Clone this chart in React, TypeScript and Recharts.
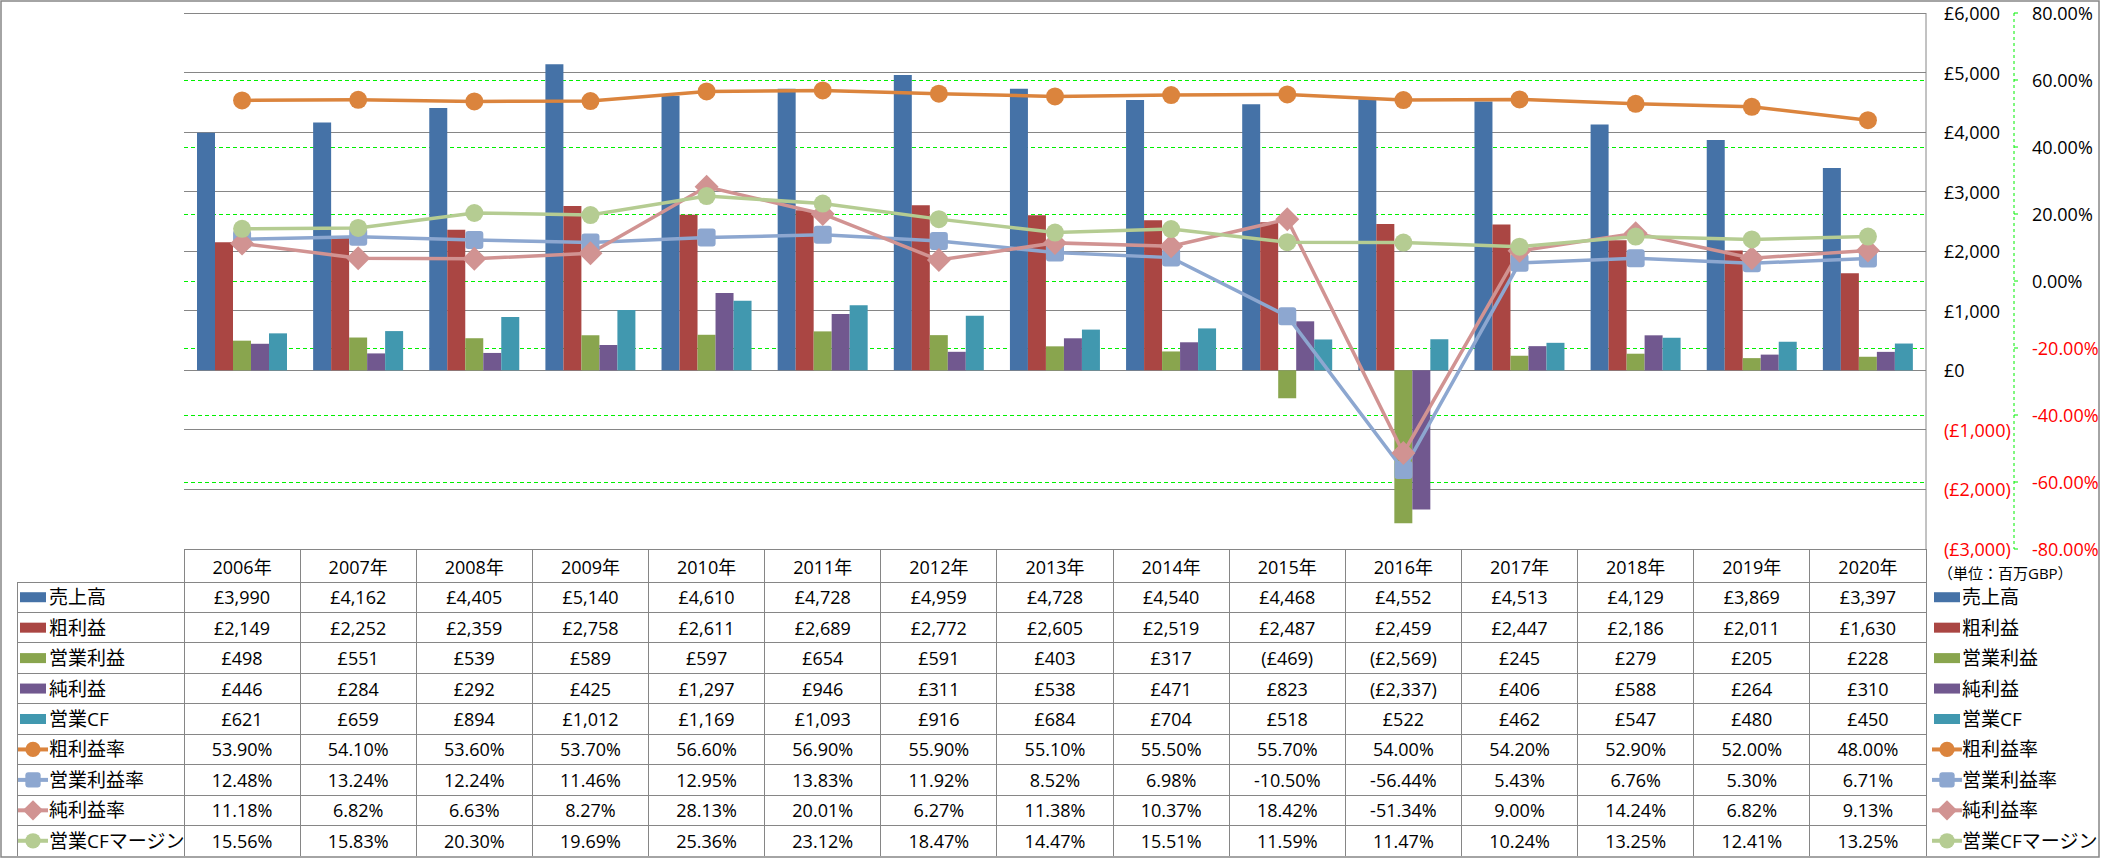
import React from "react";
import { ComposedChart, Bar, Line, XAxis, YAxis, CartesianGrid } from "recharts";

// 単位: 百万GBP
const years = ["2006年", "2007年", "2008年", "2009年", "2010年", "2011年", "2012年", "2013年", "2014年", "2015年", "2016年", "2017年", "2018年", "2019年", "2020年"];
const revenue = [3990, 4162, 4405, 5140, 4610, 4728, 4959, 4728, 4540, 4468, 4552, 4513, 4129, 3869, 3397];
const grossProfit = [2149, 2252, 2359, 2758, 2611, 2689, 2772, 2605, 2519, 2487, 2459, 2447, 2186, 2011, 1630];
const opProfit = [498, 551, 539, 589, 597, 654, 591, 403, 317, -469, -2569, 245, 279, 205, 228];
const netProfit = [446, 284, 292, 425, 1297, 946, 311, 538, 471, 823, -2337, 406, 588, 264, 310];
const opCF = [621, 659, 894, 1012, 1169, 1093, 916, 684, 704, 518, 522, 462, 547, 480, 450];
// %
const grossMargin = [53.9, 54.1, 53.6, 53.7, 56.6, 56.9, 55.9, 55.1, 55.5, 55.7, 54.0, 54.2, 52.9, 52.0, 48.0];
const opMargin = [12.48, 13.24, 12.24, 11.46, 12.95, 13.83, 11.92, 8.52, 6.98, -10.5, -56.44, 5.43, 6.76, 5.3, 6.71];
const netMargin = [11.18, 6.82, 6.63, 8.27, 28.13, 20.01, 6.27, 11.38, 10.37, 18.42, -51.34, 9.0, 14.24, 6.82, 9.13];
const cfMargin = [15.56, 15.83, 20.3, 19.69, 25.36, 23.12, 18.47, 14.47, 15.51, 11.59, 11.47, 10.24, 13.25, 12.41, 13.25];

const moneyTicks = [-3000, -2000, -1000, 0, 1000, 2000, 3000, 4000, 5000, 6000];
const pctTicks = [-80, -60, -40, -20, 0, 20, 40, 60, 80];

const W = 2101;
const H = 858;
const PLOT_L = 184;
const PLOT_R = 1926;
const PLOT_T = 13;
const PLOT_B = 549;
const MONEY_W = 88;
const PCT_W = W - PLOT_R - MONEY_W;
const FONT = "'Open Sans', 'Noto Sans CJK JP', sans-serif";
const GRID = "#868686";
const DASH_GREEN = "#00F000";

const fmtMoney = (v: number) =>
  v < 0 ? `(£${Math.abs(v).toLocaleString("en-US")})` : `£${v.toLocaleString("en-US")}`;
const fmtPct = (v: number) => `${v.toFixed(2)}%`;

type Marker = "circle" | "square" | "diamond";

const series = [
  { key: "revenue", label: "売上高", kind: "bar", color: "#4572A7", values: revenue },
  { key: "grossProfit", label: "粗利益", kind: "bar", color: "#AA4643", values: grossProfit },
  { key: "opProfit", label: "営業利益", kind: "bar", color: "#89A54E", values: opProfit },
  { key: "netProfit", label: "純利益", kind: "bar", color: "#71588F", values: netProfit },
  { key: "opCF", label: "営業CF", kind: "bar", color: "#4198AF", values: opCF },
  { key: "grossMargin", label: "粗利益率", kind: "line", color: "#DB843D", marker: "circle", values: grossMargin },
  { key: "opMargin", label: "営業利益率", kind: "line", color: "#8DA7D0", marker: "square", values: opMargin },
  { key: "netMargin", label: "純利益率", kind: "line", color: "#D19392", marker: "diamond", values: netMargin },
  { key: "cfMargin", label: "営業CFマージン", kind: "line", color: "#B5CC92", marker: "circle", values: cfMargin },
] as { key: string; label: string; kind: string; color: string; marker?: Marker; values: number[] }[];

const chartData = years.map((year, i) => {
  const row: Record<string, string | number> = { year };
  series.forEach((s) => (row[s.key] = s.values[i]));
  return row;
});

function markerShape(m: Marker, cx: number, cy: number, color: string, size = 1, key?: string) {
  if (m === "square") {
    const s = 18 * size;
    return <rect key={key} x={cx - s / 2} y={cy - s / 2} width={s} height={s} rx={3} fill={color} />;
  }
  if (m === "diamond") {
    const d = 12 * size;
    return <polygon key={key} points={`${cx},${cy - d} ${cx + d},${cy} ${cx},${cy + d} ${cx - d},${cy}`} fill={color} />;
  }
  return <circle key={key} cx={cx} cy={cy} r={9 * size} fill={color} />;
}

const makeDot = (m: Marker, color: string) => (p: any) =>
  markerShape(m, p.cx, p.cy, color, 1, `${p.dataKey}-${p.index}`);

function MoneyTick({ x, y, payload }: any) {
  const v = payload.value as number;
  return (
    <text x={x} y={y} dominantBaseline="central" textAnchor="start" fontSize={18} fontFamily={FONT} fill={v < 0 ? "#FF0000" : "#000"}>
      {fmtMoney(v)}
    </text>
  );
}

function PctTick({ x, y, payload }: any) {
  const v = payload.value as number;
  return (
    <text x={x} y={y} dominantBaseline="central" textAnchor="start" fontSize={18} fontFamily={FONT} fill={v < 0 ? "#FF0000" : "#000"}>
      {fmtPct(v)}
    </text>
  );
}

function LegendKey({ s, x, y }: { s: (typeof series)[number]; x: number; y: number }) {
  if (s.kind === "bar") return <rect x={x} y={y - 5} width={26} height={10} fill={s.color} />;
  return (
    <g>
      <line x1={x - 2} y1={y} x2={x + 28} y2={y} stroke={s.color} strokeWidth={4} />
      {markerShape(s.marker as Marker, x + 13, y, s.color, 0.85)}
    </g>
  );
}

function DataTable() {
  const colW = (PLOT_R - PLOT_L) / years.length;
  const headTop = PLOT_B;
  const rowTop = 582;
  const rowH = (856 - rowTop) / series.length;
  const left = 17;
  return (
    <svg width={W} height={H} style={{ position: "absolute", left: 0, top: 0, pointerEvents: "none" }}>
      <rect x={1} y={1} width={W - 3} height={H - 2} fill="none" stroke={GRID} strokeWidth={1.5} />
      <g shapeRendering="crispEdges">
        <line x1={PLOT_L} y1={headTop} x2={PLOT_R} y2={headTop} stroke={GRID} />
        {series.map((_, i) => (
          <line key={`h${i}`} x1={left} y1={rowTop + i * rowH} x2={PLOT_R} y2={rowTop + i * rowH} stroke={GRID} />
        ))}
        <line x1={left} y1={rowTop} x2={left} y2={856} stroke={GRID} />
        {years.map((_, j) => (
          <line key={`v${j}`} x1={PLOT_L + j * colW} y1={headTop} x2={PLOT_L + j * colW} y2={856} stroke={GRID} />
        ))}
        <line x1={PLOT_R} y1={headTop} x2={PLOT_R} y2={856} stroke={GRID} />
      </g>
      <g fontFamily={FONT} fontSize={18} fill="#000">
        {years.map((yr, j) => (
          <text key={`y${j}`} x={PLOT_L + (j + 0.5) * colW} y={(headTop + rowTop) / 2 + 1} textAnchor="middle" dominantBaseline="central">
            {yr}
          </text>
        ))}
        {series.map((s, i) => {
          const cy = rowTop + (i + 0.5) * rowH;
          return (
            <g key={s.key}>
              <LegendKey s={s} x={20} y={cy} />
              <text x={49} y={cy} dominantBaseline="central" fontSize={19}>
                {s.label}
              </text>
              {s.values.map((v, j) => (
                <text key={j} x={PLOT_L + (j + 0.5) * colW} y={cy} textAnchor="middle" dominantBaseline="central">
                  {s.kind === "bar" ? fmtMoney(v) : fmtPct(v)}
                </text>
              ))}
              <LegendKey s={s} x={1934} y={cy} />
              <text x={1962} y={cy} dominantBaseline="central" fontSize={19}>
                {s.label}
              </text>
            </g>
          );
        })}
        <text x={1938} y={573} dominantBaseline="central" fontSize={15}>
          （単位：百万GBP）
        </text>
      </g>
    </svg>
  );
}

export default function App() {
  return (
    <div style={{ position: "relative", width: W, height: H, background: "#fff" }}>
      <style>{"body{margin:0}"}</style>
      <ComposedChart
        width={W}
        height={H}
        data={chartData}
        margin={{ top: PLOT_T, right: 0, bottom: H - PLOT_B, left: PLOT_L }}
        barGap={0}
        barSize={18}
      >
        <CartesianGrid yAxisId="pct" vertical={false} stroke={DASH_GREEN} strokeDasharray="4 3" shapeRendering="crispEdges" />
        <CartesianGrid yAxisId="money" vertical={false} stroke={GRID} shapeRendering="crispEdges" />
        <XAxis dataKey="year" hide />
        <YAxis
          yAxisId="money"
          orientation="right"
          width={MONEY_W}
          domain={[-3000, 6000]}
          ticks={moneyTicks}
          interval={0}
          tickSize={6}
          tickMargin={12}
          tickLine={false}
          axisLine={{ stroke: GRID }}
          tick={<MoneyTick />}
        />
        <YAxis
          yAxisId="pct"
          orientation="right"
          width={PCT_W}
          domain={[-80, 80]}
          ticks={pctTicks}
          interval={0}
          tickSize={4}
          tickMargin={14}
          tickLine={{ stroke: DASH_GREEN }}
          axisLine={{ stroke: DASH_GREEN, strokeDasharray: "3 3" }}
          tick={<PctTick />}
        />
        {series
          .filter((s) => s.kind === "bar")
          .map((s) => (
            <Bar key={s.key} yAxisId="money" dataKey={s.key} fill={s.color} isAnimationActive={false} />
          ))}
        {series
          .filter((s) => s.kind === "line")
          .map((s) => (
            <Line
              key={s.key}
              yAxisId="pct"
              type="linear"
              dataKey={s.key}
              stroke={s.color}
              strokeWidth={3.5}
              dot={makeDot(s.marker as Marker, s.color)}
              activeDot={false}
              isAnimationActive={false}
            />
          ))}
      </ComposedChart>
      <DataTable />
    </div>
  );
}
